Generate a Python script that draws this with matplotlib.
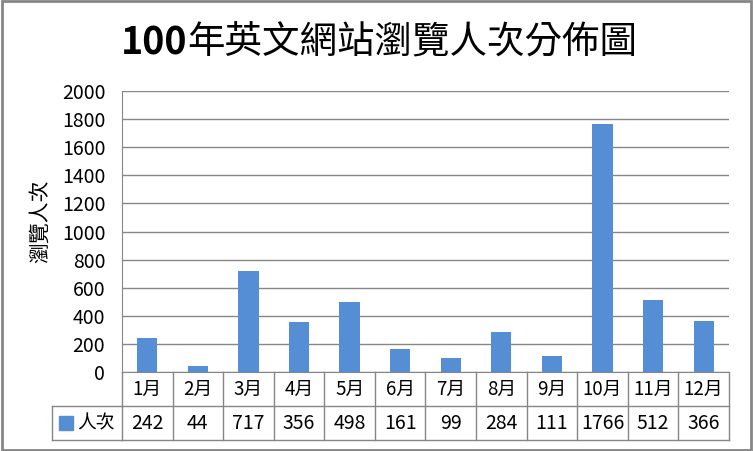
import matplotlib.pyplot as plt
from matplotlib.patches import Rectangle

plt.rcParams['font.family'] = ['Noto Sans CJK TC', 'DejaVu Sans']

months = ['1月', '2月', '3月', '4月', '5月', '6月', '7月', '8月', '9月', '10月', '11月', '12月']
visits = [242, 44, 717, 356, 498, 161, 99, 284, 111, 1766, 512, 366]
series_name = '人次'
title_num = '100'
title_rest = '年英文網站瀏覽人次分佈圖'
y_label = '瀏覽人次'

bar_color = '#558ED5'
line_color = '#868686'

fig = plt.figure(figsize=(7.53, 4.51), dpi=100)
ax = fig.add_axes([0.162, 0.175, 0.806, 0.623])

x = list(range(len(months)))
ax.bar(x, visits, width=0.4, color=bar_color, zorder=3)
ax.set_xlim(-0.5, len(months) - 0.5)
ax.set_ylim(0, 2000)
ax.set_yticks(range(0, 2001, 200))
ax.tick_params(axis='y', labelsize=14, length=0, pad=12)
ax.set_xticks([])
ax.grid(axis='y', color=line_color, linewidth=1, zorder=0)
for side in ['top', 'right']:
    ax.spines[side].set_visible(False)
for side in ['left', 'bottom']:
    ax.spines[side].set_color(line_color)

fig.text(0.053, 0.51, y_label, rotation=90, ha='center', va='center', fontsize=15)

# title: bold digits, regular CJK part
t1 = fig.text(0.160, 0.905, title_num, ha='left', va='center', fontsize=27, fontweight='bold')
ax.annotate(title_rest, xy=(1, 0.5), xycoords=t1, ha='left', va='center', fontsize=27)

# data table below the axis
row_h = 0.121
tr = ax.get_xaxis_transform()
kw = dict(color=line_color, linewidth=1, transform=tr, clip_on=False)
ax.plot([-0.5, 11.5], [-row_h, -row_h], **kw)
ax.plot([-0.5, 11.5], [-2 * row_h, -2 * row_h], **kw)
left_x = -0.5 - 70 / 50.6
ax.plot([left_x, -0.5], [-row_h, -row_h], **kw)
ax.plot([left_x, -0.5], [-2 * row_h, -2 * row_h], **kw)
ax.plot([left_x, left_x], [-row_h, -2 * row_h], **kw)
for i in range(len(months) + 1):
    ax.plot([i - 0.5, i - 0.5], [0, -2 * row_h], **kw)
for i, (m, v) in enumerate(zip(months, visits)):
    ax.text(i, -row_h / 2, m, ha='center', va='center', fontsize=13.5, transform=tr)
    ax.text(i, -1.5 * row_h, str(v), ha='center', va='center', fontsize=14, transform=tr)
ax.add_patch(Rectangle((left_x + 0.138, -1.5 * row_h - 0.025), 0.277, 0.05,
                       color=bar_color, transform=tr, clip_on=False))
ax.text(left_x + 0.49, -1.5 * row_h, series_name, ha='left', va='center',
        fontsize=13.5, transform=tr)

# outer chart border
fig.patches.append(Rectangle((0.002, 0.003), 0.996, 0.994, fill=False,
                             edgecolor=line_color, linewidth=2,
                             transform=fig.transFigure))

fig.savefig('out.png', dpi=100)
